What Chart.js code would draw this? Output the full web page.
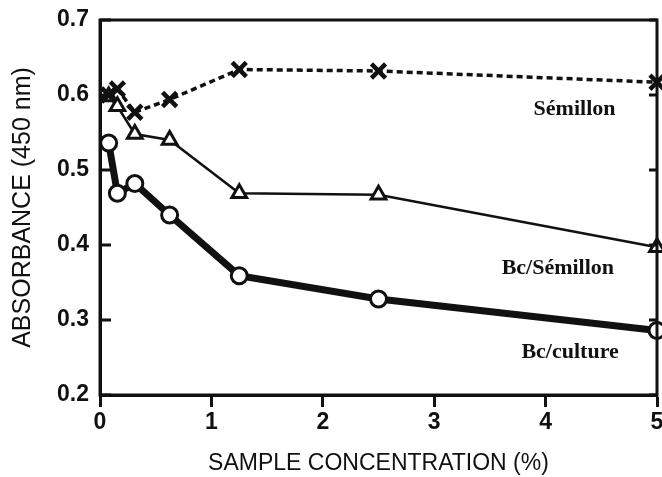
<!DOCTYPE html>
<html>
<head>
<meta charset="utf-8">
<script src="https://cdn.jsdelivr.net/npm/chart.js@4/dist/chart.umd.min.js"></script>
<style>
  html, body { margin: 0; padding: 0; background: #fff; }
  #wrap { width: 662px; height: 477px; }
</style>
</head>
<body>
<div id="wrap"><canvas id="myChart" width="662" height="477"></canvas></div>
<script>
// concentrations (%) and absorbance readings
const concentrations = [0.078, 0.156, 0.3125, 0.625, 1.25, 2.5, 5];
const semillon = [0.600, 0.608, 0.577, 0.594, 0.634, 0.632, 0.617];
const bcSemillon = [0.598, 0.585, 0.548, 0.540, 0.469, 0.467, 0.397];
const bcCulture = [0.536, 0.469, 0.482, 0.440, 0.359, 0.328, 0.286];

const xTicks = [0, 1, 2, 3, 4, 5];
const yTicks = [0.2, 0.3, 0.4, 0.5, 0.6, 0.7];

// series name labels, placed in data units
const seriesLabels = [
  { text: 'Sémillon', x: 4.26, y: 0.581 },
  { text: 'Bc/Sémillon', x: 4.11, y: 0.369 },
  { text: 'Bc/culture', x: 4.22, y: 0.257 }
];

function toPoints(ys) {
  return concentrations.map((c, i) => ({ x: c, y: ys[i] }));
}

// frame around the plot + inward ticks on left and right
const framePlugin = {
  id: 'frame',
  afterDraw(chart) {
    const { ctx, chartArea, scales } = chart;
    ctx.save();
    ctx.strokeStyle = '#111';
    ctx.lineWidth = 3;
    ctx.strokeRect(chartArea.left, chartArea.top, chartArea.right - chartArea.left, chartArea.bottom - chartArea.top);
    ctx.beginPath();
    yTicks.forEach(v => {
      const py = scales.y.getPixelForValue(v);
      ctx.moveTo(chartArea.left, py);
      ctx.lineTo(chartArea.left + 11, py);
      ctx.moveTo(chartArea.right, py);
      ctx.lineTo(chartArea.right - 8, py);
    });
    ctx.stroke();

    ctx.fillStyle = '#111';
    ctx.font = 'bold 22px "Liberation Serif"';
    ctx.textAlign = 'center';
    ctx.textBaseline = 'middle';
    seriesLabels.forEach(l => {
      ctx.fillText(l.text, scales.x.getPixelForValue(l.x), scales.y.getPixelForValue(l.y));
    });
    ctx.restore();
  }
};

const ctx = document.getElementById('myChart').getContext('2d');
new Chart(ctx, {
  type: 'line',
  data: {
    datasets: [
      {
        label: 'Sémillon',
        data: toPoints(semillon),
        borderColor: '#111',
        borderWidth: 3.5,
        borderDash: [6, 4],
        pointStyle: 'crossRot',
        pointRadius: 10,
        pointBorderWidth: 4.5,
        pointBorderColor: '#111',
        clip: false
      },
      {
        label: 'Bc/Sémillon',
        data: toPoints(bcSemillon),
        borderColor: '#111',
        borderWidth: 2.5,
        pointStyle: 'triangle',
        pointRadius: 8.5,
        pointBorderWidth: 3,
        pointBackgroundColor: '#fff',
        pointBorderColor: '#111',
        clip: false
      },
      {
        label: 'Bc/culture',
        data: toPoints(bcCulture),
        borderColor: '#111',
        borderWidth: 7,
        pointStyle: 'circle',
        pointRadius: 8,
        pointBorderWidth: 3,
        pointBackgroundColor: '#fff',
        pointBorderColor: '#111',
        clip: false
      }
    ]
  },
  options: {
    responsive: false,
    animation: false,
    layout: { autoPadding: false, padding: { top: 20, right: 5, left: 0, bottom: 0 } },
    plugins: {
      legend: { display: false },
      tooltip: { enabled: false }
    },
    scales: {
      x: {
        type: 'linear',
        min: 0,
        max: 5,
        afterFit(scale) {
          scale.height = 82;
          scale.paddingLeft = 0;
          scale.paddingRight = 0;
        },
        afterBuildTicks(scale) { scale.ticks = xTicks.map(v => ({ value: v })); },
        grid: {
          drawOnChartArea: false,
          drawTicks: true,
          tickLength: 12,
          tickWidth: 3,
          color: '#111'
        },
        border: { display: true, color: '#111', width: 3 },
        ticks: {
          color: '#111',
          padding: 2,
          maxRotation: 0,
          font: { family: 'Liberation Sans', size: 23, weight: 'bold' }
        },
        title: {
          display: true,
          text: 'SAMPLE CONCENTRATION (%)',
          color: '#111',
          padding: { top: 4, bottom: 0 },
          font: { family: 'Liberation Sans', size: 23 }
        }
      },
      y: {
        type: 'linear',
        min: 0.2,
        max: 0.7,
        afterFit(scale) {
          scale.width = 100;
          scale.paddingTop = 0;
          scale.paddingBottom = 0;
        },
        afterBuildTicks(scale) { scale.ticks = yTicks.map(v => ({ value: v })); },
        grid: { drawOnChartArea: false, drawTicks: false },
        border: { display: true, color: '#111', width: 3 },
        ticks: {
          color: '#111',
          padding: 11,
          callback: v => v.toFixed(1),
          font: { family: 'Liberation Sans', size: 23, weight: 'bold' }
        },
        title: {
          display: true,
          text: 'ABSORBANCE (450 nm)',
          color: '#111',
          padding: { top: 8, bottom: 0 },
          font: { family: 'Liberation Sans', size: 25 }
        }
      }
    }
  },
  plugins: [framePlugin]
});
</script>
</body>
</html>
